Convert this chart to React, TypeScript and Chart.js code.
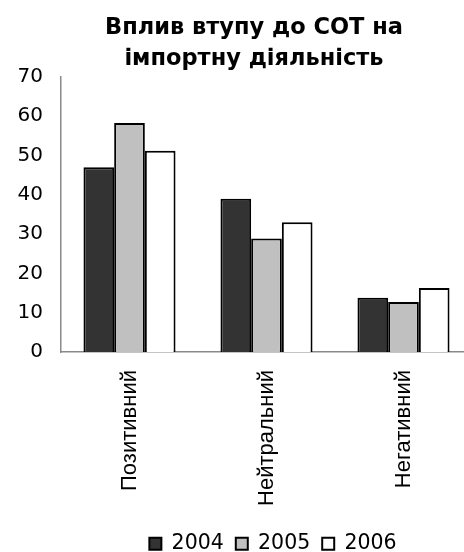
import React, { useEffect, useRef } from 'react';
import { Chart, registerables } from 'chart.js';

Chart.register(...registerables);

const titleLines = ['Вплив втупу до СОТ на', 'імпортну діяльність'];
const categories = ['Позитивний', 'Нейтральний', 'Негативний'];
const seriesNames = ['2004', '2005', '2006'];
const values2004 = [47, 39, 13.8];
const values2005 = [58.3, 28.9, 12.7];
const values2006 = [51.2, 33, 16.3];
const seriesColors = ['#333333', '#c0c0c0', '#ffffff'];
const yMin = 0;
const yMax = 70;
const yStep = 10;

const shiftPlugin = {
  id: 'shiftBoxes',
  afterLayout(chart: any) {
    const t = chart.titleBlock;
    if (t) {
      t.left += 18;
      t.right += 18;
    }
    const l = chart.legend;
    if (l) {
      l.left += 37;
      l.right += 37;
    }
  },
};

export default function App() {
  const ref = useRef<HTMLCanvasElement | null>(null);

  useEffect(() => {
    if (!ref.current) return;
    const seriesValues = [values2004, values2005, values2006];
    const chart = new Chart(ref.current, {
      type: 'bar',
      data: {
        labels: categories,
        datasets: seriesNames.map((name, i) => ({
          label: name,
          data: seriesValues[i],
          backgroundColor: seriesColors[i],
          borderColor: '#000000',
          borderWidth: 2,
          borderSkipped: 'bottom',
          categoryPercentage: 0.672,
          barPercentage: 1,
        })),
      },
      options: {
        responsive: false,
        animation: false,
        events: [],
        layout: { padding: { left: 0, right: 8, top: 0, bottom: 0 } },
        plugins: {
          title: {
            display: true,
            text: titleLines,
            color: '#000000',
            font: { family: '"DejaVu Sans", Verdana, sans-serif', size: 22.5, weight: 'bold', lineHeight: 1.378 },
            padding: { top: 12.5, bottom: 2.5 },
          },
          legend: {
            display: true,
            position: 'bottom',
            labels: {
              color: '#000000',
              font: { family: '"DejaVu Sans", Verdana, sans-serif', size: 20.5 },
              boxWidth: 12,
              boxHeight: 12,
              padding: 12,
            },
          },
          tooltip: { enabled: false },
        },
        scales: {
          x: {
            grid: { display: false, drawTicks: false },
            border: { display: true, color: '#8a8a8a', width: 1.5 },
            ticks: {
              color: '#000000',
              font: { family: '"Liberation Sans", Arial, sans-serif', size: 22 },
              minRotation: 90,
              maxRotation: 90,
              autoSkip: false,
              padding: 18,
            },
            afterFit: (scale: any) => {
              scale.height = 169.5;
            },
          },
          y: {
            min: yMin,
            max: yMax,
            grid: { display: false, drawTicks: false },
            border: { display: true, color: '#8a8a8a', width: 1.5 },
            ticks: {
              stepSize: yStep,
              color: '#000000',
              font: { family: '"DejaVu Sans", Verdana, sans-serif', size: 20 },
              padding: 18,
            },
            afterFit: (scale: any) => {
              scale.width = 61;
            },
          },
        },
      },
      plugins: [shiftPlugin],
    });
    return () => chart.destroy();
  }, []);

  return (
    <div style={{ position: 'absolute', left: 0, top: 0, width: 464, height: 552, overflow: 'hidden', background: '#ffffff' }}>
      <div style={{ position: 'relative', width: 480, height: 564 }}>
        <canvas ref={ref} width={480} height={564} style={{ display: 'block' }} />
      </div>
    </div>
  );
}
